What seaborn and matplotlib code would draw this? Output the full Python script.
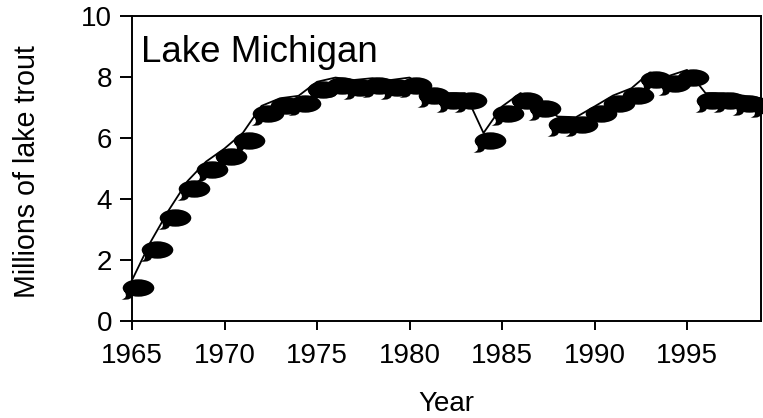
import numpy as np
import pandas as pd
import matplotlib
matplotlib.use("Agg")
import matplotlib.pyplot as plt
from matplotlib.path import Path as MPath
from matplotlib.transforms import Affine2D
import seaborn as sns

years = list(range(1965, 2000))
trout = [1.33, 2.58, 3.64, 4.58, 5.22, 5.65, 6.17, 7.05, 7.30, 7.38, 7.84, 7.98,
         7.90, 7.96, 7.90, 7.98, 7.63, 7.47, 7.47, 6.16, 7.03, 7.47, 7.21, 6.70,
         6.68, 7.03, 7.39, 7.63, 8.15, 8.03, 8.23, 7.47, 7.47, 7.39, 7.30]
x_ticks = [1965, 1970, 1975, 1980, 1985, 1990, 1995]
y_ticks = [0, 2, 4, 6, 8, 10]

df = pd.DataFrame({"year": years, "trout": trout})

sns.set_theme(style="ticks")
plt.rcParams["font.family"] = ["Liberation Sans", "DejaVu Sans"]

W, H = 763, 418
fig = plt.figure(figsize=(W / 100, H / 100), dpi=100)
ax = fig.add_axes([132 / W, 1 - 320.7 / H, (761 - 132) / W, (320.7 - 16) / H])

# fish-egg / speech bubble marker, sits below and right of the data point
cx, cy = 6.0, -7.5
body = MPath.unit_circle().transformed(Affine2D().scale(15.8, 8.7).translate(cx, cy))
tail = MPath(
    [(cx - 14, cy - 3), (cx - 10, cy - 10), (cx - 17, cy - 11.5),
     (cx - 6, cy - 13), (cx - 5, cy - 6), (cx - 14, cy - 3)],
    [MPath.MOVETO, MPath.CURVE3, MPath.CURVE3, MPath.CURVE3, MPath.CURVE3, MPath.CLOSEPOLY],
)
egg = MPath.make_compound_path(body, tail)
extent = np.abs(egg.vertices).max()
egg_size = (2 * extent * 0.72) ** 2

sns.lineplot(data=df, x="year", y="trout", estimator=None, color="black",
             linewidth=1.3, ax=ax, zorder=2)
sns.scatterplot(data=df, x="year", y="trout", marker=egg, s=egg_size, color="black",
                linewidth=0, clip_on=False, ax=ax, zorder=3)

ax.set_xlim(1965, 1999)
ax.set_ylim(0, 10)
ax.set_xticks(x_ticks)
ax.set_yticks(y_ticks)
ax.tick_params(axis="x", length=6.2, width=1.4, labelsize=20, pad=10, color="black", labelcolor="black")
ax.tick_params(axis="y", length=8.4, width=1.4, labelsize=20, pad=6, color="black", labelcolor="black")
for s in ax.spines.values():
    s.set_visible(True)
    s.set_linewidth(1.4)
    s.set_color("black")

ax.set_xlabel("Year", fontsize=20, color="black", labelpad=15.5)
ax.set_ylabel("Millions of lake trout", fontsize=20.6, color="black", labelpad=29, y=0.49)
ax.text(141 / W, 1 - 62 / H, "Lake Michigan", transform=fig.transFigure,
        fontsize=26.5, color="black", va="baseline", ha="left")

fig.savefig("out.png", dpi=100)
